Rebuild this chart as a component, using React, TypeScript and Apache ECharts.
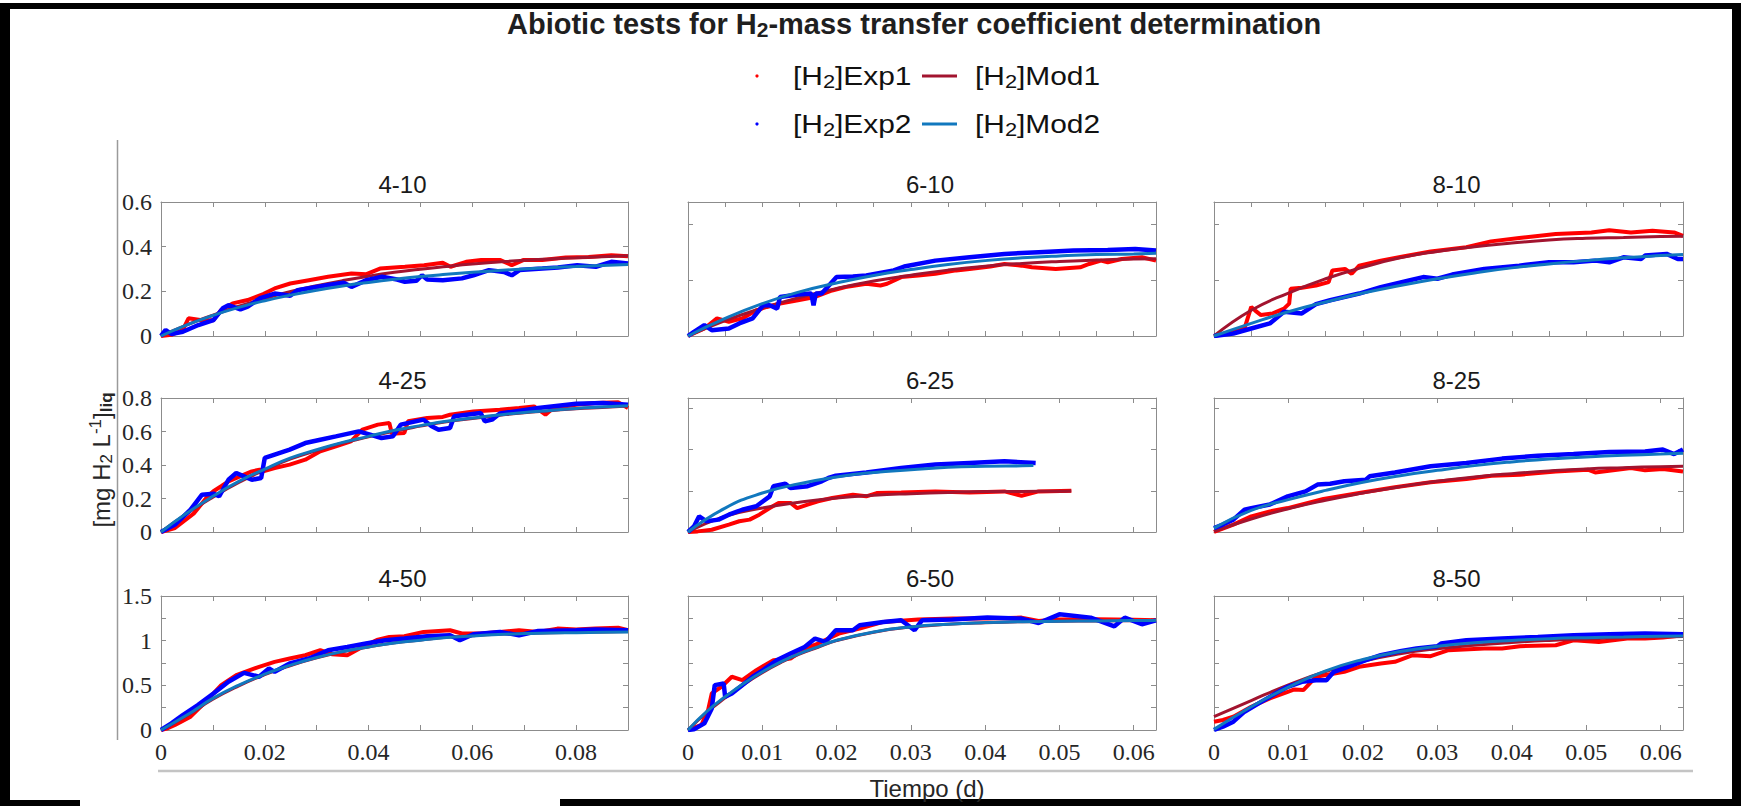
import React, { useEffect, useRef } from 'react';
import * as echarts from 'echarts';

// ---------- axes / labels ----------
const panelNames = ['4-10', '6-10', '8-10', '4-25', '6-25', '8-25', '4-50', '6-50', '8-50'];
const xMaxByCol = [0.09, 0.063, 0.063];
const xStepByPanel = [0.01, 0.005, 0.005, 0.01, 0.01, 0.01, 0.01, 0.01, 0.01];
const yMaxByPanel = [0.6, 0.48, 0.48, 0.8, 0.65, 0.65, 1.5, 1.5, 1.5];
const yStepByPanel = [0.2, 0.2, 0.2, 0.2, 0.2, 0.2, 0.25, 0.25, 0.25];
const xTickLabelsCol1 = ['0', '0.02', '0.04', '0.06', '0.08'];
const xTickLabelsCol23 = ['0', '0.01', '0.02', '0.03', '0.04', '0.05', '0.06'];
const yTickLabelsRow1 = ['0', '0.2', '0.4', '0.6'];
const yTickLabelsRow2 = ['0', '0.2', '0.4', '0.6', '0.8'];
const yTickLabelsRow3 = ['0', '0.5', '1', '1.5'];

// ---------- model x grids ----------
const modX_c1 = [0, 0.005, 0.01, 0.015, 0.02, 0.025, 0.03, 0.035, 0.04, 0.045, 0.05, 0.055, 0.06, 0.065, 0.07, 0.075, 0.08, 0.085, 0.09];
const modX_c23 = [0, 0.005, 0.01, 0.015, 0.02, 0.025, 0.03, 0.035, 0.04, 0.045, 0.05, 0.055, 0.06, 0.063];
const modX_6_25_m1 = [0, 0.005, 0.01, 0.015, 0.02, 0.025, 0.03, 0.035, 0.04, 0.045, 0.05, 0.0516];
const modX_6_25_m2 = [0, 0.005, 0.01, 0.015, 0.02, 0.025, 0.03, 0.035, 0.04, 0.045, 0.0465];
const modX_6_50 = [0, 0.0025, 0.005, 0.0075, 0.01, 0.0125, 0.015, 0.0175, 0.02, 0.025, 0.03, 0.035, 0.04, 0.045, 0.05, 0.055, 0.06, 0.063];

// ---------- 4-10 ----------
const exp1_4_10 = [[0, 0], [0.002, 0.005], [0.0042, 0.027], [0.0053, 0.079], [0.0079, 0.071], [0.0101, 0.071], [0.0116, 0.116], [0.0138, 0.146], [0.0167, 0.161], [0.0197, 0.188], [0.0219, 0.213], [0.0249, 0.235], [0.0285, 0.25], [0.0322, 0.265], [0.0367, 0.28], [0.0396, 0.277], [0.0422, 0.302], [0.047, 0.31], [0.0507, 0.317], [0.0543, 0.328], [0.0558, 0.31], [0.0588, 0.332], [0.0617, 0.34], [0.0654, 0.34], [0.0676, 0.317], [0.0698, 0.34], [0.0735, 0.34], [0.078, 0.351], [0.0824, 0.354], [0.0868, 0.362], [0.09, 0.357]];
const exp2_4_10 = [[0, 0], [0.0009, 0.027], [0.002, 0.009], [0.0042, 0.019], [0.0072, 0.049], [0.0101, 0.071], [0.0119, 0.124], [0.013, 0.138], [0.0153, 0.119], [0.0167, 0.131], [0.019, 0.168], [0.0219, 0.19], [0.0249, 0.18], [0.0263, 0.205], [0.0322, 0.228], [0.0352, 0.238], [0.0367, 0.22], [0.0396, 0.25], [0.0426, 0.265], [0.0455, 0.253], [0.047, 0.243], [0.0492, 0.247], [0.0503, 0.272], [0.0513, 0.253], [0.0543, 0.25], [0.058, 0.258], [0.0602, 0.272], [0.0632, 0.295], [0.0661, 0.287], [0.0676, 0.272], [0.0691, 0.295], [0.0735, 0.302], [0.0765, 0.307], [0.0802, 0.317], [0.0838, 0.31], [0.0868, 0.332], [0.09, 0.325]];
const mod1_4_10 = [0, 0.05, 0.093, 0.133, 0.168, 0.199, 0.225, 0.248, 0.268, 0.285, 0.299, 0.311, 0.322, 0.331, 0.339, 0.345, 0.35, 0.355, 0.359];
const mod2_4_10 = [0, 0.05, 0.092, 0.128, 0.158, 0.183, 0.205, 0.224, 0.24, 0.254, 0.266, 0.276, 0.285, 0.293, 0.3, 0.306, 0.311, 0.316, 0.32];

// ---------- 6-10 ----------
const exp1_6_10 = [[0, 0], [0.0022, 0.027], [0.0039, 0.063], [0.0055, 0.051], [0.0073, 0.063], [0.0092, 0.092], [0.0106, 0.104], [0.0124, 0.116], [0.0148, 0.128], [0.0171, 0.14], [0.0194, 0.163], [0.0212, 0.175], [0.024, 0.187], [0.0259, 0.181], [0.0268, 0.187], [0.0287, 0.211], [0.031, 0.217], [0.0333, 0.223], [0.0361, 0.235], [0.0379, 0.24], [0.0407, 0.249], [0.0426, 0.258], [0.0449, 0.252], [0.0463, 0.246], [0.0495, 0.24], [0.0528, 0.246], [0.054, 0.258], [0.0556, 0.27], [0.0565, 0.264], [0.0584, 0.276], [0.0611, 0.282], [0.063, 0.27]];
const exp2_6_10 = [[0, 0], [0.0008, 0.015], [0.0022, 0.039], [0.0032, 0.021], [0.0055, 0.027], [0.0069, 0.045], [0.0087, 0.063], [0.0101, 0.11], [0.011, 0.11], [0.012, 0.098], [0.0124, 0.14], [0.0148, 0.149], [0.0166, 0.152], [0.0169, 0.11], [0.0172, 0.152], [0.018, 0.152], [0.02, 0.211], [0.0222, 0.213], [0.024, 0.217], [0.0277, 0.235], [0.0291, 0.249], [0.0333, 0.27], [0.0379, 0.282], [0.0426, 0.294], [0.0472, 0.3], [0.0519, 0.306], [0.0565, 0.308], [0.0602, 0.312], [0.063, 0.306]];
const mod1_6_10 = [0, 0.055, 0.1, 0.138, 0.17, 0.197, 0.218, 0.236, 0.25, 0.26, 0.267, 0.272, 0.276, 0.277];
const mod2_6_10 = [0, 0.063, 0.116, 0.158, 0.19, 0.217, 0.238, 0.256, 0.27, 0.28, 0.287, 0.292, 0.294, 0.296];

// ---------- 8-10 ----------
const exp1_8_10 = [[0, 0], [0.0026, 0.015], [0.0041, 0.027], [0.005, 0.104], [0.0055, 0.092], [0.0063, 0.075], [0.0079, 0.081], [0.0094, 0.098], [0.0101, 0.116], [0.0103, 0.169], [0.0118, 0.173], [0.0137, 0.181], [0.0154, 0.193], [0.0159, 0.235], [0.0176, 0.24], [0.0185, 0.223], [0.0195, 0.252], [0.0224, 0.27], [0.0252, 0.284], [0.0291, 0.303], [0.0339, 0.318], [0.0372, 0.339], [0.041, 0.351], [0.0459, 0.365], [0.0507, 0.371], [0.0531, 0.379], [0.056, 0.371], [0.0589, 0.377], [0.0618, 0.371], [0.063, 0.359]];
const exp2_8_10 = [[0, 0], [0.0026, 0.009], [0.005, 0.027], [0.0075, 0.045], [0.0094, 0.087], [0.0118, 0.081], [0.0137, 0.114], [0.0156, 0.128], [0.0195, 0.152], [0.0224, 0.175], [0.0262, 0.199], [0.0281, 0.211], [0.03, 0.205], [0.032, 0.22], [0.0363, 0.24], [0.041, 0.252], [0.045, 0.264], [0.0483, 0.264], [0.0512, 0.27], [0.0531, 0.264], [0.055, 0.282], [0.0574, 0.276], [0.0579, 0.288], [0.0608, 0.294], [0.0623, 0.276], [0.063, 0.276]];
const mod1_8_10 = [0, 0.092, 0.154, 0.205, 0.246, 0.28, 0.303, 0.32, 0.333, 0.344, 0.35, 0.353, 0.356, 0.357];
const mod2_8_10 = [0, 0.045, 0.087, 0.122, 0.154, 0.181, 0.205, 0.226, 0.244, 0.258, 0.27, 0.28, 0.288, 0.292];

// ---------- 4-25 ----------
const exp1_4_25 = [[0, 0], [0.0027, 0.024], [0.0064, 0.113], [0.009, 0.213], [0.0101, 0.243], [0.0116, 0.273], [0.013, 0.302], [0.0152, 0.332], [0.0175, 0.362], [0.019, 0.372], [0.0197, 0.362], [0.0219, 0.382], [0.0248, 0.402], [0.0278, 0.432], [0.0307, 0.482], [0.0337, 0.511], [0.0366, 0.541], [0.0388, 0.611], [0.0418, 0.641], [0.044, 0.651], [0.0445, 0.587], [0.0469, 0.591], [0.0476, 0.661], [0.0513, 0.681], [0.0543, 0.687], [0.0557, 0.7], [0.0602, 0.72], [0.0653, 0.73], [0.069, 0.74], [0.0719, 0.75], [0.0741, 0.7], [0.0756, 0.74], [0.08, 0.76], [0.0837, 0.77], [0.0881, 0.774], [0.09, 0.74]];
const exp2_4_25 = [[0, 0], [0.0027, 0.044], [0.0057, 0.133], [0.0079, 0.223], [0.0101, 0.229], [0.0112, 0.213], [0.013, 0.312], [0.0145, 0.352], [0.016, 0.332], [0.0175, 0.312], [0.0193, 0.322], [0.02, 0.442], [0.0219, 0.462], [0.0248, 0.492], [0.0278, 0.531], [0.0307, 0.551], [0.0337, 0.571], [0.0381, 0.601], [0.0403, 0.581], [0.0425, 0.561], [0.0447, 0.571], [0.0462, 0.641], [0.0506, 0.671], [0.052, 0.635], [0.0535, 0.611], [0.0557, 0.621], [0.0565, 0.691], [0.0616, 0.711], [0.0624, 0.661], [0.0638, 0.671], [0.0653, 0.707], [0.0727, 0.74], [0.08, 0.766], [0.0852, 0.77], [0.09, 0.76]];
const mod1_4_25 = [0, 0.11, 0.208, 0.296, 0.37, 0.436, 0.486, 0.531, 0.568, 0.603, 0.632, 0.658, 0.678, 0.696, 0.712, 0.724, 0.736, 0.744, 0.752];
const mod2_4_25 = [0, 0.113, 0.213, 0.302, 0.376, 0.442, 0.491, 0.535, 0.571, 0.607, 0.635, 0.661, 0.68, 0.698, 0.714, 0.726, 0.738, 0.746, 0.754];

// ---------- 6-25 ----------
const exp1_6_25 = [[0, 0], [0.0013, 0.003], [0.0032, 0.011], [0.0055, 0.036], [0.0069, 0.052], [0.0083, 0.06], [0.0096, 0.084], [0.011, 0.116], [0.0122, 0.141], [0.0138, 0.141], [0.0147, 0.116], [0.0161, 0.133], [0.0175, 0.149], [0.0194, 0.165], [0.0222, 0.181], [0.024, 0.173], [0.0254, 0.189], [0.0287, 0.192], [0.0333, 0.197], [0.0379, 0.192], [0.0426, 0.197], [0.0449, 0.176], [0.0472, 0.197], [0.0516, 0.2]];
const exp2_6_25 = [[0, 0], [0.0008, 0.027], [0.0015, 0.076], [0.0025, 0.052], [0.0041, 0.06], [0.0055, 0.084], [0.0073, 0.108], [0.0092, 0.125], [0.011, 0.173], [0.0115, 0.222], [0.0131, 0.234], [0.0138, 0.213], [0.0161, 0.222], [0.018, 0.246], [0.0189, 0.262], [0.0199, 0.273], [0.024, 0.289], [0.0287, 0.31], [0.0333, 0.327], [0.0379, 0.335], [0.0426, 0.343], [0.0468, 0.335]];
const mod1_6_25 = [0, 0.076, 0.116, 0.144, 0.165, 0.178, 0.186, 0.192, 0.196, 0.197, 0.198, 0.199];
const mod2_6_25 = [0, 0.116, 0.189, 0.234, 0.267, 0.289, 0.302, 0.314, 0.319, 0.321, 0.322];

// ---------- 8-25 ----------
const exp1_8_25 = [[0, 0], [0.0026, 0.036], [0.005, 0.076], [0.0075, 0.1], [0.0099, 0.116], [0.0147, 0.16], [0.0195, 0.189], [0.0243, 0.217], [0.0291, 0.241], [0.0339, 0.257], [0.0373, 0.273], [0.0411, 0.278], [0.0459, 0.294], [0.0502, 0.302], [0.0512, 0.289], [0.056, 0.31], [0.0579, 0.299], [0.0603, 0.306], [0.063, 0.294]];
const exp2_8_25 = [[0, 0.019], [0.0012, 0.036], [0.0026, 0.06], [0.0041, 0.108], [0.005, 0.116], [0.0075, 0.133], [0.0099, 0.173], [0.0123, 0.197], [0.0139, 0.23], [0.0156, 0.234], [0.0175, 0.246], [0.0204, 0.254], [0.0209, 0.27], [0.0243, 0.289], [0.0291, 0.319], [0.0339, 0.335], [0.0387, 0.356], [0.0435, 0.37], [0.0483, 0.378], [0.0531, 0.388], [0.0579, 0.391], [0.0603, 0.4], [0.0618, 0.378], [0.063, 0.4]];
const mod1_8_25 = [0.003, 0.063, 0.113, 0.154, 0.189, 0.22, 0.246, 0.267, 0.283, 0.296, 0.306, 0.312, 0.317, 0.319];
const mod2_8_25 = [0.019, 0.105, 0.157, 0.202, 0.241, 0.273, 0.299, 0.322, 0.34, 0.354, 0.364, 0.372, 0.378, 0.382];

// ---------- 4-50 ----------
const exp1_4_50 = [[0, 0], [0.0013, 0.019], [0.0027, 0.056], [0.0057, 0.149], [0.0086, 0.316], [0.0116, 0.502], [0.0145, 0.614], [0.0189, 0.707], [0.0219, 0.763], [0.0248, 0.8], [0.0278, 0.837], [0.0307, 0.893], [0.0329, 0.849], [0.0359, 0.837], [0.0388, 0.93], [0.0418, 1.012], [0.044, 1.042], [0.0469, 1.05], [0.0506, 1.098], [0.0557, 1.117], [0.058, 1.08], [0.0616, 1.079], [0.0653, 1.098], [0.069, 1.117], [0.0727, 1.098], [0.0764, 1.135], [0.08, 1.124], [0.0837, 1.135], [0.0881, 1.146], [0.09, 1.117]];
const exp2_4_50 = [[0, 0], [0.002, 0.074], [0.0042, 0.167], [0.0071, 0.279], [0.0101, 0.409], [0.013, 0.54], [0.016, 0.64], [0.0189, 0.596], [0.0208, 0.689], [0.0219, 0.651], [0.0248, 0.744], [0.0285, 0.8], [0.0322, 0.893], [0.0359, 0.93], [0.0395, 0.968], [0.0432, 1.005], [0.0469, 1.024], [0.0513, 1.05], [0.0557, 1.061], [0.0576, 1.005], [0.0602, 1.072], [0.0653, 1.098], [0.069, 1.061], [0.0727, 1.109], [0.08, 1.117], [0.0837, 1.124], [0.09, 1.117]];
const mod1_4_50 = [0, 0.16, 0.345, 0.495, 0.62, 0.722, 0.808, 0.876, 0.93, 0.976, 1.008, 1.037, 1.056, 1.071, 1.082, 1.09, 1.094, 1.098, 1.102];
const mod2_4_50 = [0, 0.167, 0.354, 0.502, 0.625, 0.726, 0.811, 0.878, 0.93, 0.975, 1.005, 1.035, 1.053, 1.068, 1.079, 1.087, 1.09, 1.094, 1.098];

// ---------- 6-50 ----------
const exp1_6_50 = [[0, 0], [0.0018, 0.056], [0.0027, 0.223], [0.0032, 0.409], [0.0045, 0.484], [0.0059, 0.596], [0.0073, 0.558], [0.0092, 0.67], [0.0115, 0.782], [0.0138, 0.8], [0.0157, 0.912], [0.0175, 0.968], [0.0203, 1.079], [0.0231, 1.135], [0.0263, 1.21], [0.031, 1.236], [0.0356, 1.247], [0.0403, 1.247], [0.0449, 1.258], [0.0472, 1.221], [0.0495, 1.236], [0.055, 1.24], [0.06, 1.235], [0.063, 1.228]];
const exp2_6_50 = [[0, 0], [0.0008, 0.007], [0.0022, 0.074], [0.0032, 0.242], [0.0036, 0.502], [0.0048, 0.521], [0.005, 0.372], [0.0059, 0.409], [0.0073, 0.502], [0.0087, 0.596], [0.0101, 0.67], [0.012, 0.782], [0.0138, 0.856], [0.0157, 0.93], [0.0171, 1.024], [0.0185, 0.986], [0.0199, 1.117], [0.0222, 1.117], [0.0231, 1.172], [0.0263, 1.21], [0.0287, 1.228], [0.0305, 1.117], [0.0315, 1.228], [0.0356, 1.236], [0.0403, 1.258], [0.0449, 1.247], [0.0472, 1.198], [0.05, 1.295], [0.0542, 1.258], [0.0574, 1.161], [0.0588, 1.258], [0.0611, 1.184], [0.063, 1.228]];
const mod1_6_50 = [0, 0.195, 0.36, 0.51, 0.642, 0.755, 0.85, 0.926, 1.0, 1.095, 1.152, 1.183, 1.201, 1.212, 1.217, 1.221, 1.224, 1.225];
const mod2_6_50 = [0, 0.205, 0.372, 0.521, 0.651, 0.763, 0.856, 0.93, 1.005, 1.098, 1.154, 1.184, 1.202, 1.213, 1.217, 1.221, 1.225, 1.225];

// ---------- 8-50 ----------
const exp1_8_50 = [[0, 0.093], [0.0012, 0.112], [0.0026, 0.149], [0.005, 0.26], [0.0075, 0.354], [0.0099, 0.428], [0.0108, 0.454], [0.012, 0.447], [0.0137, 0.596], [0.0156, 0.625], [0.0175, 0.651], [0.0195, 0.707], [0.0224, 0.744], [0.0243, 0.763], [0.0267, 0.837], [0.0291, 0.826], [0.0315, 0.893], [0.0363, 0.912], [0.0387, 0.912], [0.0411, 0.938], [0.0459, 0.949], [0.0483, 1.005], [0.0517, 0.986], [0.0536, 1.005], [0.0555, 1.024], [0.0579, 1.024], [0.0603, 1.035], [0.063, 1.061]];
const exp2_8_50 = [[0, 0], [0.0012, 0.037], [0.0026, 0.093], [0.0041, 0.205], [0.006, 0.298], [0.0079, 0.391], [0.0099, 0.484], [0.0118, 0.54], [0.0137, 0.558], [0.0151, 0.558], [0.0161, 0.651], [0.018, 0.707], [0.0204, 0.782], [0.0224, 0.837], [0.0252, 0.886], [0.0272, 0.912], [0.03, 0.938], [0.0305, 0.968], [0.0339, 1.005], [0.0387, 1.024], [0.0435, 1.042], [0.0483, 1.061], [0.0531, 1.072], [0.0579, 1.079], [0.063, 1.072]];
const mod1_8_50 = [0.149, 0.33, 0.505, 0.655, 0.77, 0.853, 0.91, 0.95, 0.98, 1.003, 1.02, 1.033, 1.042, 1.046];
const mod2_8_50 = [0.007, 0.26, 0.48, 0.662, 0.79, 0.878, 0.937, 0.977, 1.003, 1.022, 1.034, 1.042, 1.049, 1.052];

const panelData = [
  { e1: exp1_4_10, m1x: modX_c1, m1: mod1_4_10, e2: exp2_4_10, m2x: modX_c1, m2: mod2_4_10 },
  { e1: exp1_6_10, m1x: modX_c23, m1: mod1_6_10, e2: exp2_6_10, m2x: modX_c23, m2: mod2_6_10 },
  { e1: exp1_8_10, m1x: modX_c23, m1: mod1_8_10, e2: exp2_8_10, m2x: modX_c23, m2: mod2_8_10 },
  { e1: exp1_4_25, m1x: modX_c1, m1: mod1_4_25, e2: exp2_4_25, m2x: modX_c1, m2: mod2_4_25 },
  { e1: exp1_6_25, m1x: modX_6_25_m1, m1: mod1_6_25, e2: exp2_6_25, m2x: modX_6_25_m2, m2: mod2_6_25 },
  { e1: exp1_8_25, m1x: modX_c23, m1: mod1_8_25, e2: exp2_8_25, m2x: modX_c23, m2: mod2_8_25 },
  { e1: exp1_4_50, m1x: modX_c1, m1: mod1_4_50, e2: exp2_4_50, m2x: modX_c1, m2: mod2_4_50 },
  { e1: exp1_6_50, m1x: modX_6_50, m1: mod1_6_50, e2: exp2_6_50, m2x: modX_6_50, m2: mod2_6_50 },
  { e1: exp1_8_50, m1x: modX_c23, m1: mod1_8_50, e2: exp2_8_50, m2x: modX_c23, m2: mod2_8_50 },
];

// ---------- styling ----------
const SANS = '"Liberation Sans", Arial, Helvetica, sans-serif';
const SERIF = '"Liberation Serif", "Times New Roman", serif';
const C_EXP1 = '#ff0000';
const C_MOD1 = '#a2142f';
const C_EXP2 = '#0000ff';
const C_MOD2 = '#1178be';
const C_AXIS = '#8c8c8c';
const C_TEXT = '#262626';

const colLeft = [161, 688, 1214];
const colWidth = [467, 468, 469];
const rowTop = [202, 398, 596];
const rowHeight = 134;

function labelFmt(labels: string[]) {
  return (v: number) => {
    const s = String(+Number(v).toFixed(4));
    return labels.indexOf(s) >= 0 ? s : '';
  };
}

function buildOption() {
  const grid: any[] = [];
  const xAxis: any[] = [];
  const yAxis: any[] = [];
  const series: any[] = [];
  const title: any[] = [];
  const yLabelsByRow = [yTickLabelsRow1, yTickLabelsRow2, yTickLabelsRow3];

  title.push({
    text: 'Abiotic tests for H{s|2}-mass transfer coefficient determination',
    left: 507,
    top: 8,
    padding: 0,
    textStyle: {
      fontFamily: SANS, fontSize: 29, fontWeight: 'bold', color: '#1f1f1f', lineHeight: 32,
      rich: { s: { fontFamily: SANS, fontSize: 21, fontWeight: 'bold', color: '#1f1f1f', lineHeight: 10, verticalAlign: 'bottom' } },
    },
  });

  for (let i = 0; i < 9; i++) {
    const row = Math.floor(i / 3);
    const col = i % 3;
    const left = colLeft[col];
    const top = rowTop[row];
    const width = colWidth[col];
    grid.push({ left, top, width, height: rowHeight, show: false, containLabel: false });

    const tickStyle = { show: true, inside: true, length: 5, lineStyle: { color: C_AXIS, width: 1 } };
    const lineStyle = { show: true, onZero: false, lineStyle: { color: C_AXIS, width: 1 } };
    const xLabels = col === 0 ? xTickLabelsCol1 : xTickLabelsCol23;

    xAxis.push({
      type: 'value', gridIndex: i, position: 'bottom', min: 0, max: xMaxByCol[col], interval: xStepByPanel[i],
      axisLine: lineStyle, axisTick: tickStyle, splitLine: { show: false },
      axisLabel: {
        show: row === 2, formatter: labelFmt(xLabels), fontFamily: SERIF, fontSize: 24, color: C_TEXT, margin: 10,
      },
    });
    xAxis.push({
      type: 'value', gridIndex: i, position: 'top', min: 0, max: xMaxByCol[col], interval: xStepByPanel[i],
      axisLine: lineStyle, axisTick: tickStyle, splitLine: { show: false }, axisLabel: { show: false },
    });
    yAxis.push({
      type: 'value', gridIndex: i, position: 'left', min: 0, max: yMaxByPanel[i], interval: yStepByPanel[i],
      axisLine: lineStyle, axisTick: tickStyle, splitLine: { show: false },
      axisLabel: {
        show: col === 0, formatter: labelFmt(yLabelsByRow[row]), fontFamily: SERIF, fontSize: 24, color: C_TEXT, margin: 9,
      },
    });
    yAxis.push({
      type: 'value', gridIndex: i, position: 'right', min: 0, max: yMaxByPanel[i], interval: yStepByPanel[i],
      axisLine: lineStyle, axisTick: tickStyle, splitLine: { show: false }, axisLabel: { show: false },
    });

    title.push({
      text: panelNames[i],
      left: left + width / 2 + 8,
      top: top - 18 - 12,
      textAlign: 'center',
      padding: 0,
      textStyle: { fontFamily: SANS, fontSize: 24, fontWeight: 'normal', color: '#1a1a1a', lineHeight: 24 },
    });

    const p = panelData[i];
    const common = { type: 'line', xAxisIndex: 2 * i, yAxisIndex: 2 * i, symbol: 'none', showSymbol: false, silent: true, animation: false };
    series.push({ ...common, name: '[H2]Exp1', data: p.e1, lineStyle: { color: C_EXP1, width: 4 }, itemStyle: { color: C_EXP1 } });
    series.push({ ...common, name: '[H2]Mod1', smooth: true, data: p.m1x.map((x, k) => [x, p.m1[k]]), lineStyle: { color: C_MOD1, width: 3 }, itemStyle: { color: C_MOD1 } });
    series.push({ ...common, name: '[H2]Exp2', data: p.e2, lineStyle: { color: C_EXP2, width: 4.5 }, itemStyle: { color: C_EXP2 } });
    series.push({ ...common, name: '[H2]Mod2', smooth: true, data: p.m2x.map((x, k) => [x, p.m2[k]]), lineStyle: { color: C_MOD2, width: 3 }, itemStyle: { color: C_MOD2 } });
  }

  const legendText = (text: string, x: number, y: number) => ({
    type: 'text', x, y, scaleX: 1.15,
    style: {
      text, fill: '#111', fontFamily: SANS, fontSize: 26, lineHeight: 30, verticalAlign: 'middle', align: 'left',
      rich: { s: { fontFamily: SANS, fontSize: 19, fill: '#111', lineHeight: 8, verticalAlign: 'bottom' } },
    },
  });

  const graphic: any[] = [
    // frame
    { type: 'rect', shape: { x: 0, y: 3, width: 1741, height: 6 }, style: { fill: '#000' } },
    { type: 'rect', shape: { x: 0, y: 3, width: 10, height: 803 }, style: { fill: '#000' } },
    { type: 'rect', shape: { x: 1732, y: 3, width: 9, height: 803 }, style: { fill: '#000' } },
    { type: 'rect', shape: { x: 0, y: 800, width: 80, height: 6 }, style: { fill: '#000' } },
    { type: 'rect', shape: { x: 560, y: 799, width: 1181, height: 7 }, style: { fill: '#000' } },
    // shared axis lines
    { type: 'line', shape: { x1: 117.5, y1: 140, x2: 117.5, y2: 740 }, style: { stroke: '#9a9a9a', lineWidth: 1.5 } },
    { type: 'line', shape: { x1: 158, y1: 771, x2: 1693, y2: 771 }, style: { stroke: '#c4c4c4', lineWidth: 2.5 } },
    // legend
    { type: 'circle', shape: { cx: 757, cy: 76, r: 1.6 }, style: { fill: C_EXP1 } },
    legendText('[H{s|2}]Exp1', 793, 76),
    { type: 'line', shape: { x1: 922, y1: 76, x2: 957, y2: 76 }, style: { stroke: C_MOD1, lineWidth: 3 } },
    legendText('[H{s|2}]Mod1', 975, 76),
    { type: 'circle', shape: { cx: 757, cy: 124, r: 1.6 }, style: { fill: C_EXP2 } },
    legendText('[H{s|2}]Exp2', 793, 124),
    { type: 'line', shape: { x1: 922, y1: 124, x2: 957, y2: 124 }, style: { stroke: C_MOD2, lineWidth: 3 } },
    legendText('[H{s|2}]Mod2', 975, 124),
    // axis titles
    {
      type: 'text', x: 101, y: 460, rotation: Math.PI / 2,
      style: {
        text: '[mg H{s|2} L{p|-1}]{q|liq}', fill: C_TEXT, fontFamily: SANS, fontSize: 24, lineHeight: 28,
        align: 'center', verticalAlign: 'middle',
        rich: {
          s: { fontFamily: SANS, fontSize: 17, fill: C_TEXT, lineHeight: 8, verticalAlign: 'bottom' },
          p: { fontFamily: SANS, fontSize: 17, fill: C_TEXT, lineHeight: 8, verticalAlign: 'top' },
          q: { fontFamily: SANS, fontSize: 17, fontWeight: 'bold', fill: C_TEXT, lineHeight: 8, verticalAlign: 'bottom' },
        },
      },
    },
    {
      type: 'text', x: 927, y: 788,
      style: { text: 'Tiempo (d)', fill: C_TEXT, fontFamily: SANS, fontSize: 24, align: 'center', verticalAlign: 'middle' },
    },
  ];

  return {
    animation: false,
    backgroundColor: '#ffffff',
    title,
    grid,
    xAxis,
    yAxis,
    series,
    graphic,
  };
}

export default function App() {
  const ref = useRef<HTMLDivElement>(null);
  useEffect(() => {
    if (!ref.current) return;
    const chart = echarts.init(ref.current, null, { renderer: 'svg' });
    chart.setOption(buildOption() as any);
    return () => chart.dispose();
  }, []);
  return (
    <div
      ref={ref}
      style={{ position: 'absolute', left: 0, top: 0, width: 1741, height: 806, background: '#ffffff' }}
    />
  );
}
